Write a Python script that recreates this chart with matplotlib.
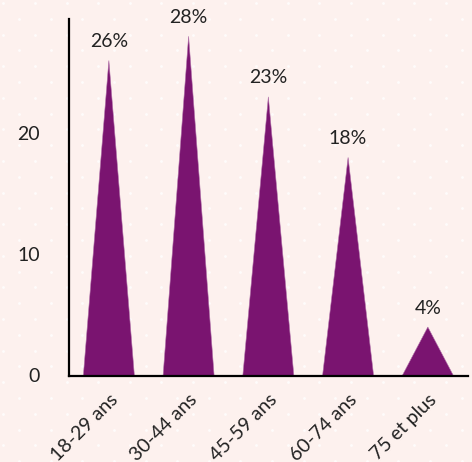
import numpy as np
import matplotlib.pyplot as plt

plt.rcParams["font.family"] = ["Lato", "DejaVu Sans"]

categories = ["18-29 ans", "30-44 ans", "45-59 ans", "60-74 ans", "75 et plus"]
values = [26, 28, 23, 18, 4]
labels = ["26%", "28%", "23%", "18%", "4%"]

bg = "#fdf1ee"
purple = "#7a1470"
txt = "#222222"

W, H, dpi = 472, 462, 100
fig = plt.figure(figsize=(W / dpi, H / dpi), dpi=dpi, facecolor=bg)

# dotted backdrop
bgax = fig.add_axes([0, 0, 1, 1], zorder=-1)
bgax.set_xlim(0, W)
bgax.set_ylim(H, 0)
bgax.axis("off")
step = 15.8
xs, ys = [], []
for i in range(int(W / step) + 2):
    for j in range(int(H / step) + 2):
        if (i + j) % 2 == 0:
            xs.append(3.3 + i * step)
            ys.append(3.0 + j * step)
bgax.scatter(xs, ys, s=4, color="white", alpha=0.8, linewidths=0)

ax = fig.add_axes([69 / W, 1 - 375.5 / H, (467.7 - 69) / W, (375.5 - 19.3) / H])
ax.set_facecolor("none")

w = 0.64
for i, (v, lab) in enumerate(zip(values, labels)):
    ax.fill([i - w / 2, i, i + w / 2], [0, v, 0], color=purple,
            edgecolor="#b070a8", linewidth=0.4)
    ax.text(i, v + 1.57, lab, ha="center", va="center", fontsize=14, color=txt)

ax.set_xlim(-0.5, len(categories) - 0.5)
ax.set_ylim(0, max(values) * 1.05)
ax.set_yticks([0, 10, 20])
ax.set_xticks(range(len(categories)))
ax.set_xticklabels(categories, rotation=45, ha="right", rotation_mode="anchor")
ax.tick_params(length=0, labelsize=14, labelcolor=txt)
ax.tick_params(axis="y", pad=21)
ax.tick_params(axis="x", pad=11)
for s in ["top", "right"]:
    ax.spines[s].set_visible(False)
for s in ["left", "bottom"]:
    ax.spines[s].set_linewidth(1.6)
    ax.spines[s].set_color("black")

fig.savefig("out.png", dpi=dpi, facecolor=bg)
